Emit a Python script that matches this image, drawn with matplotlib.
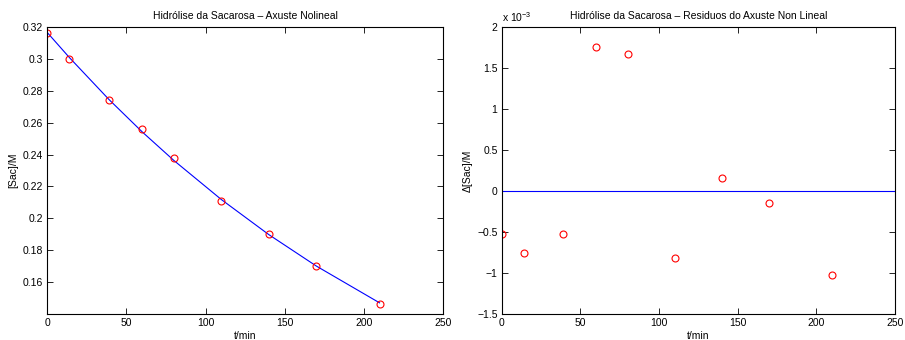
import matplotlib
matplotlib.use('Agg')
import matplotlib.pyplot as plt

# sucrose hydrolysis data
t = [0, 14, 39, 60, 80, 110, 140, 170, 210]
sac = [0.316, 0.300, 0.274, 0.256, 0.238, 0.211, 0.190, 0.170, 0.146]
# fitted values (nonlinear fit) at the same times
sac_fit = [0.3165, 0.3008, 0.2745, 0.2542, 0.2363, 0.2118, 0.1898, 0.1701, 0.1470]
# residuals, units of 1e-3 M
resid = [-0.53, -0.76, -0.52, 1.76, 1.67, -0.82, 0.16, -0.145, -1.03]

plt.rcParams['font.family'] = ['Liberation Sans', 'DejaVu Sans']
plt.rcParams['mathtext.fontset'] = 'custom'
plt.rcParams['mathtext.rm'] = 'Liberation Sans'
plt.rcParams['mathtext.it'] = 'Liberation Sans'
plt.rcParams['font.size'] = 7.5

fig = plt.figure(figsize=(9.05, 3.4), dpi=100)
ax1 = fig.add_axes([0.0523, 0.0765, 0.437, 0.844])
ax2 = fig.add_axes([0.5544, 0.0765, 0.4346, 0.844])

for ax in (ax1, ax2):
    ax.tick_params(direction='in', top=True, right=True, length=4, width=0.6,
                   labelsize=7.5, pad=3)
    for s in ax.spines.values():
        s.set_linewidth(0.8)
    ax.set_xlim(0, 250)
    ax.set_xticks([0, 50, 100, 150, 200, 250])
    ax.set_xlabel('t/min', labelpad=2)

# left: data and fit
ax1.plot(t, sac_fit, color='blue', lw=0.8)
ax1.plot(t, sac, 'o', mfc='none', mec='red', ms=5, mew=0.8)
ax1.set_ylim(0.14, 0.32)
ax1.set_yticks([0.16, 0.18, 0.2, 0.22, 0.24, 0.26, 0.28, 0.3, 0.32])
ax1.set_yticklabels(['0.16', '0.18', '0.2', '0.22', '0.24', '0.26', '0.28', '0.3', '0.32'])
ax1.set_ylabel('[Sac]/M', labelpad=3)
ax1.set_title('Hidrólise da Sacarosa \u2013 Axuste Nolineal', fontsize=7.5, pad=6)

# right: residuals
ax2.axhline(0, color='blue', lw=0.8)
ax2.plot(t, resid, 'o', mfc='none', mec='red', ms=5, mew=0.8)
ax2.set_ylim(-1.5, 2)
ax2.set_yticks([-1.5, -1, -0.5, 0, 0.5, 1, 1.5, 2])
ax2.set_yticklabels(['\u22121.5', '\u22121', '\u22120.5', '0', '0.5', '1', '1.5', '2'])
ax2.set_ylabel('\u0394[Sac]/M', labelpad=3)
ax2.set_title('Hidrólise da Sacarosa \u2013 Residuos do Axuste Non Lineal', fontsize=7.5, pad=6)
ax2.text(0.0, 1.012, r'x 10$^{-3}$', transform=ax2.transAxes, ha='left', va='bottom',
         fontsize=7.5)

fig.savefig('out.png', dpi=100)
